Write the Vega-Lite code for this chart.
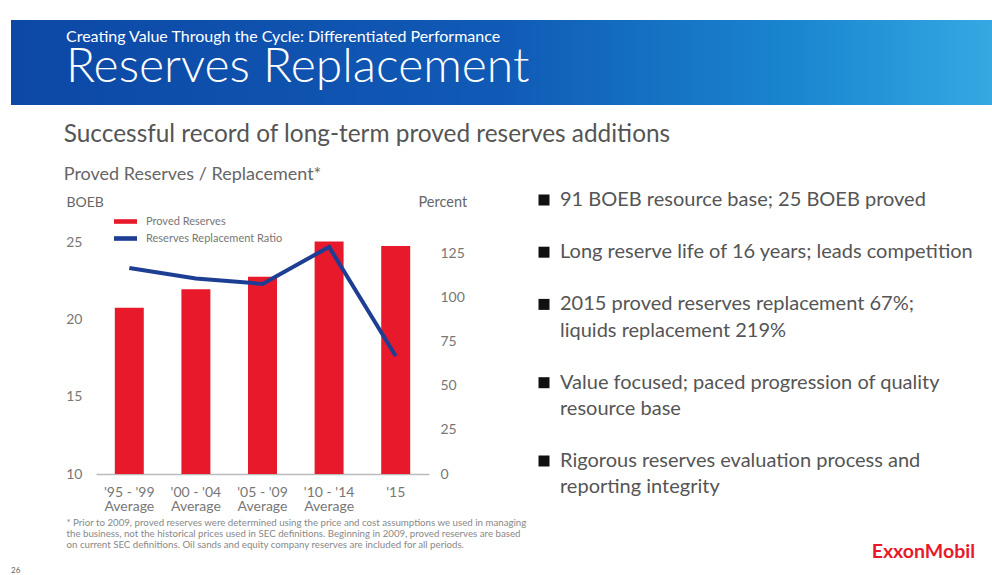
{
  "$schema": "https://vega.github.io/schema/vega-lite/v6.json",
  "padding": {"left": 11, "top": 20, "right": 0, "bottom": 0},
  "background": "white",
  "config": {
    "font": "Lato",
    "view": {"stroke": null}
  },
  "title": {"text": "26", "orient": "bottom", "anchor": "start", "frame": "bounds", "fontSize": 8, "color": "#666", "fontWeight": "normal", "offset": 5},
  "datasets": {
    "reserves": [
      {"period": "'95 - '99|Average", "reserves": 20.8, "ratio": 117},
      {"period": "'00 - '04|Average", "reserves": 22.0, "ratio": 111},
      {"period": "'05 - '09|Average", "reserves": 22.8, "ratio": 108},
      {"period": "'10 - '14|Average", "reserves": 25.1, "ratio": 129},
      {"period": "'15", "reserves": 24.8, "ratio": 67}
    ],
    "bullets": [
      {"row": 1, "first": true, "text": "91 BOEB resource base; 25 BOEB proved"},
      {"row": 3, "first": true, "text": "Long reserve life of 16 years; leads competition"},
      {"row": 5, "first": true, "text": "2015 proved reserves replacement 67%;"},
      {"row": 6, "first": false, "text": "liquids replacement 219%"},
      {"row": 8, "first": true, "text": "Value focused; paced progression of quality"},
      {"row": 9, "first": false, "text": "resource base"},
      {"row": 11, "first": true, "text": "Rigorous reserves evaluation process and"},
      {"row": 12, "first": false, "text": "reporting integrity"}
    ]
  },
  "bounds": "flush",
  "spacing": 103,
  "resolve": {"scale": {"color": "independent"}, "legend": {"color": "independent"}},
  "vconcat": [
    {
      "width": 981,
      "height": 85,
      "data": {"values": [{"section": "Reserves Replacement"}]},
      "mark": {
        "type": "rect",
        "fill": {
          "gradient": "linear", "x1": 0, "x2": 1, "y1": 0, "y2": 0,
          "stops": [
            {"offset": 0, "color": "#0d48a6"},
            {"offset": 0.5, "color": "#105ab5"},
            {"offset": 0.8, "color": "#1a86d0"},
            {"offset": 1, "color": "#35a8e2"}
          ]
        }
      },
      "encoding": {},
      "title": {
        "text": "Creating Value Through the Cycle: Differentiated Performance",
        "subtitle": "Reserves Replacement",
        "orient": "top", "anchor": "start", "frame": "group",
        "offset": -72, "dx": 55,
        "color": "white", "fontSize": 16, "fontWeight": "normal",
        "subtitleColor": "white", "subtitleFontSize": 48, "subtitleFontWeight": 300,
        "subtitlePadding": -1
      }
    },
    {
      "spacing": 0,
      "bounds": "flush",
      "resolve": {"scale": {"color": "independent"}, "legend": {"color": "independent"}},
      "hconcat": [
        {
          "width": 85,
          "height": 10,
          "data": {"values": [{"k": 0}]},
          "mark": {"type": "rect", "opacity": 0},
          "encoding": {}
        },
        {
          "spacing": 115,
          "bounds": "flush",
          "resolve": {"scale": {"color": "independent"}, "legend": {"color": "independent"}},
          "hconcat": [
            {
              "width": 333,
              "height": 266,
              "data": {"name": "reserves"},
              "title": {
                "text": "Successful record of long-term proved reserves additions",
                "subtitle": "Proved Reserves / Replacement*",
                "orient": "top", "anchor": "start", "frame": "bounds",
                "dx": -2, "offset": 9,
                "fontSize": 24.4, "fontWeight": "normal", "color": "#555",
                "subtitleFontSize": 18, "subtitleColor": "#666", "subtitlePadding": 19
              },
              "encoding": {
                "x": {
                  "field": "period", "type": "nominal", "sort": null,
                  "scale": {"paddingInner": 0.565, "paddingOuter": 0.2825},
                  "axis": {
                    "labelExpr": "split(datum.value, '|')",
                    "labelAngle": 0, "labelFontSize": 14, "labelColor": "#777",
                    "labelPadding": 11, "labelLineHeight": 14,
                    "ticks": false, "domainColor": "#bbb", "domainWidth": 1.5,
                    "title": [
                      "* Prior to 2009, proved reserves were determined using the price and cost assumptions we used in managing",
                      "\u00a0\u00a0\u00a0the business, not the historical prices used in SEC definitions.  Beginning in 2009, proved reserves are based",
                      "\u00a0\u00a0\u00a0on current SEC definitions.  Oil sands and equity company reserves are included for all periods."
                    ],
                    "titleAnchor": "start", "titleAlign": "left", "titleX": -30, "titleY": 51,
                    "titleBaseline": "alphabetic", "titleFontSize": 9.7, "titleFontWeight": "normal",
                    "titleColor": "#888", "titleLineHeight": 11.2
                  }
                }
              },
              "layer": [
                {
                  "mark": {"type": "bar"},
                  "encoding": {
                    "y": {
                      "field": "reserves", "type": "quantitative",
                      "scale": {"domain": [10, 27.27], "nice": false, "zero": false},
                      "axis": {
                        "orient": "left", "title": "BOEB", "values": [10, 15, 20, 25],
                        "titleAngle": 0, "titleAlign": "left", "titleX": -30, "titleY": -2,
                        "titleBaseline": "alphabetic", "titleFontSize": 14, "titleFontWeight": "normal",
                        "titleColor": "#666",
                        "labelFontSize": 14, "labelColor": "#777", "labelPadding": 14,
                        "domain": false, "ticks": false, "grid": false
                      }
                    },
                    "y2": {"datum": 10},
                    "color": {
                      "datum": "Proved Reserves", "type": "nominal",
                      "scale": {"domain": ["Proved Reserves", "Reserves Replacement Ratio"], "range": ["#e8192b", "#1d3e93"]},
                      "legend": {
                        "orient": "none", "legendX": 18, "legendY": 2, "title": null,
                        "symbolType": "M-1,-0.2H1V0.2H-1Z", "symbolSize": 529,
                        "labelFontSize": 11, "labelColor": "#777", "labelOffset": 9,
                        "rowPadding": -4, "padding": 0,
                        "encode": {"symbols": {"update": {"fill": {"scale": "color", "field": "value"}, "strokeWidth": {"value": 0}, "opacity": {"value": 1}}}}
                      }
                    }
                  }
                },
                {
                  "mark": {"type": "line", "strokeWidth": 4},
                  "encoding": {
                    "y": {
                      "field": "ratio", "type": "quantitative",
                      "scale": {"domain": [0, 151.1], "nice": false},
                      "axis": {
                        "orient": "right", "title": "Percent", "values": [0, 25, 50, 75, 100, 125],
                        "titleAngle": 0, "titleAlign": "left", "titleX": -11, "titleY": -2,
                        "titleBaseline": "alphabetic", "titleFontSize": 14.5, "titleFontWeight": "normal",
                        "titleColor": "#666",
                        "labelFontSize": 14, "labelColor": "#777", "labelPadding": 11,
                        "domain": false, "ticks": false, "grid": false
                      }
                    },
                    "color": {"datum": "Reserves Replacement Ratio", "type": "nominal"}
                  }
                }
              ],
              "resolve": {"scale": {"y": "independent"}}
            },
            {
              "width": 431,
              "height": 320,
              "data": {"name": "bullets"},
              "title": {
                "text": "ExxonMobil", "orient": "bottom", "anchor": "end", "frame": "group",
                "offset": 15, "fontSize": 19.5, "fontWeight": "bold", "color": "#e8192b"
              },
              "encoding": {
                "x": {"datum": 0, "type": "quantitative", "scale": {"domain": [0, 1]}, "axis": null},
                "y": {
                  "field": "row", "type": "quantitative",
                  "scale": {"domain": [1.3065, 13.567], "reverse": true, "nice": false, "zero": false},
                  "axis": null
                }
              },
              "layer": [
                {
                  "transform": [{"filter": "datum.first"}],
                  "mark": {"type": "point", "shape": "square", "filled": true, "size": 121, "color": "#111", "opacity": 1}
                },
                {
                  "mark": {"type": "text", "align": "left", "baseline": "middle", "dx": 16, "fontSize": 20, "color": "#555"},
                  "encoding": {"text": {"field": "text"}}
                }
              ]
            }
          ]
        }
      ]
    }
  ]
}
